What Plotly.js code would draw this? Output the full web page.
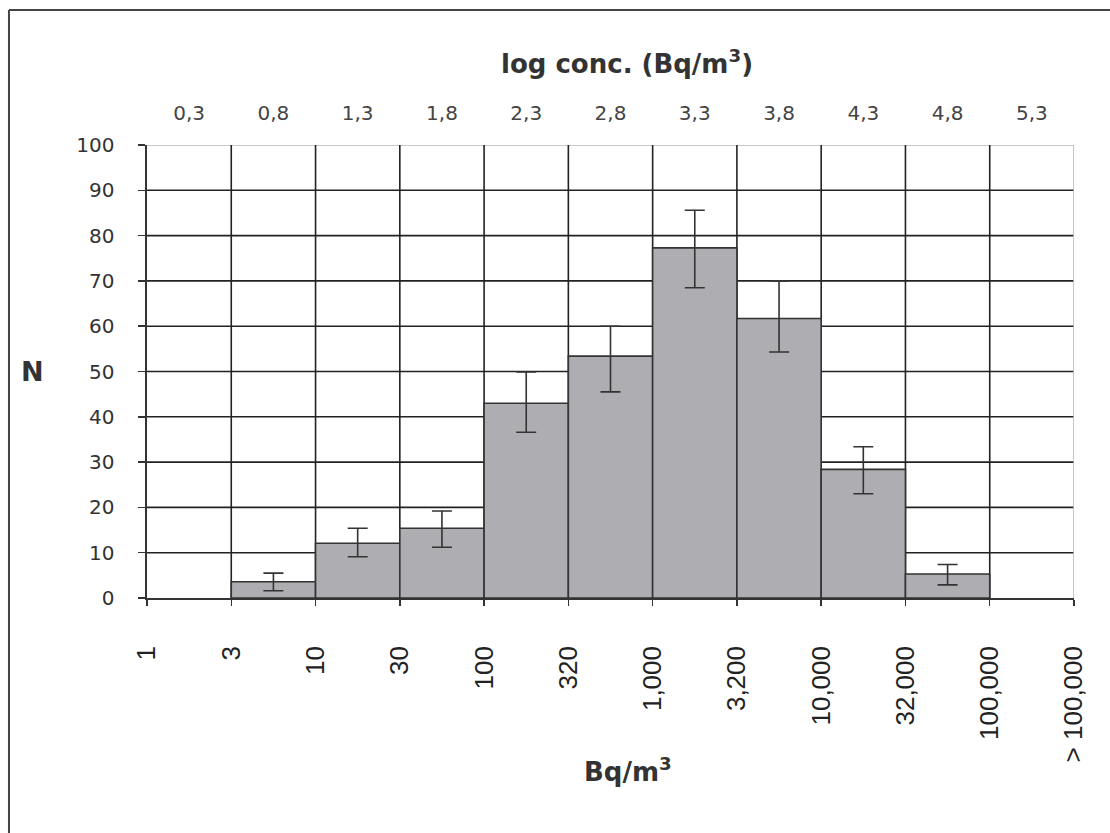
<!DOCTYPE html>
<html>
<head>
<meta charset="utf-8">
<script src="https://cdn.plot.ly/plotly-3.0.1.min.js"></script>
<style>html,body{margin:0;padding:0;background:#fff;}#chart{width:1110px;height:833px;}</style>
</head>
<body>
<div id="chart"></div>
<script>
// Bin edge labels (Bq/m3) along bottom
const edgeLabels = ['1', '3', '10', '30', '100', '320', '1,000', '3,200', '10,000', '32,000', '100,000', '> 100,000'];
// log concentration labels at bin centres (top axis)
const logLabels = ['0,3', '0,8', '1,3', '1,8', '2,3', '2,8', '3,3', '3,8', '4,3', '4,8', '5,3'];
// counts per bin
const counts = [null, 3.6, 12.1, 15.4, 43.0, 53.4, 77.3, 61.7, 28.4, 5.3, null];
const errPlus = [null, 1.9, 3.3, 3.8, 6.9, 6.6, 8.3, 8.3, 5.0, 2.1, null];
const errMinus = [null, 2.0, 3.0, 4.2, 6.4, 7.9, 8.8, 7.4, 5.4, 2.4, null];
const yTicks = [0, 10, 20, 30, 40, 50, 60, 70, 80, 90, 100];

const nBins = logLabels.length;
const centers = logLabels.map((_, i) => i + 0.5);
const edges = edgeLabels.map((_, i) => i);

const gridDark = '#222222';
const gridLight = '#b8b8b8';
const shapes = [];
yTicks.forEach(v => {
  if (v === 0) return;
  shapes.push({type: 'line', xref: 'x', yref: 'y', x0: 0, x1: nBins, y0: v, y1: v, layer: 'below',
    line: {color: v === 100 ? gridLight : gridDark, width: 1.6}});
});
edges.forEach(e => {
  if (e === 0) return;
  shapes.push({type: 'line', xref: 'x', yref: 'y', x0: e, x1: e, y0: 0, y1: 100, layer: 'below',
    line: {color: e === nBins ? gridLight : gridDark, width: 1.6}});
});
// outer frame (left and top)
shapes.push({type: 'line', xref: 'paper', yref: 'paper', x0: -0.1489, x1: -0.1489, y0: -0.52, y1: 1.298, line: {color: '#444', width: 2}});
shapes.push({type: 'line', xref: 'paper', yref: 'paper', x0: -0.1489, x1: 1.04, y0: 1.298, y1: 1.298, line: {color: '#444', width: 2}});

const traces = [
  {
    type: 'bar', x: centers, y: counts, width: 1,
    marker: {color: '#aeaeb2', line: {color: '#333333', width: 1.6}},
    error_y: {type: 'data', symmetric: false, array: errPlus, arrayminus: errMinus,
      color: '#333333', thickness: 1.6, width: 10},
    hoverinfo: 'skip', showlegend: false
  },
  {
    type: 'scatter', mode: 'markers', x: centers, y: centers.map(() => null), xaxis: 'x2',
    hoverinfo: 'skip', showlegend: false
  }
];

const layout = {
  width: 1110, height: 833,
  margin: {l: 147, r: 36, t: 145, b: 235},
  paper_bgcolor: '#ffffff', plot_bgcolor: '#ffffff',
  bargap: 0,
  xaxis: {
    range: [0, nBins], tickmode: 'array', tickvals: edges, ticktext: edgeLabels,
    tickangle: -90, ticks: 'outside', ticklen: 6, tickwidth: 1.5, tickcolor: '#333',
    showline: true, linecolor: '#333', linewidth: 1.6, showgrid: false, zeroline: false,
    ticklabelstandoff: 30,
    tickfont: {family: 'Liberation Sans, Arial, sans-serif', size: 26, color: '#222'}
  },
  xaxis2: {
    overlaying: 'x', side: 'top', range: [0, nBins], tickmode: 'array', tickvals: centers, ticktext: logLabels,
    ticks: '', showline: false, showgrid: false, zeroline: false, ticklabelstandoff: 20,
    tickfont: {family: 'DejaVu Sans, sans-serif', size: 20, color: '#444'}
  },
  yaxis: {
    range: [0, 100], tickmode: 'array', tickvals: yTicks,
    ticks: 'outside', ticklen: 7, tickwidth: 1.5, tickcolor: '#333',
    showline: true, linecolor: '#333', linewidth: 1.6, showgrid: false, zeroline: false,
    ticklabelstandoff: 20,
    tickfont: {family: 'DejaVu Sans, sans-serif', size: 20, color: '#333'}
  },
  shapes: shapes,
  annotations: [
    {text: '<b>log conc. (Bq/m<sup>3</sup>)</b>', xref: 'paper', yref: 'paper', x: 0.518, y: 1.183,
      showarrow: false, xanchor: 'center', yanchor: 'middle',
      font: {family: 'DejaVu Sans, sans-serif', size: 26, color: '#333'}},
    {text: '<b>Bq/m<sup>3</sup></b>', xref: 'paper', yref: 'paper', x: 0.519, y: -0.38,
      showarrow: false, xanchor: 'center', yanchor: 'middle',
      font: {family: 'DejaVu Sans, sans-serif', size: 26, color: '#333'}},
    {text: '<b>N</b>', xref: 'paper', yref: 'paper', x: -0.123, y: 0.499,
      showarrow: false, xanchor: 'center', yanchor: 'middle',
      font: {family: 'DejaVu Sans, sans-serif', size: 27, color: '#333'}}
  ]
};

Plotly.newPlot('chart', traces, layout, {displayModeBar: false, staticPlot: true});
</script>
</body>
</html>
